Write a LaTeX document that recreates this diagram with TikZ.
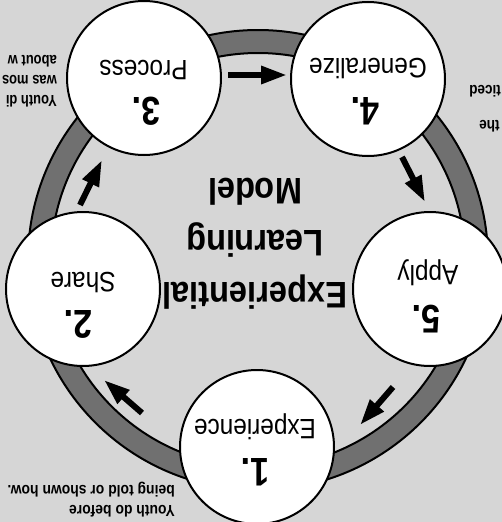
\documentclass[tikz,border=0pt]{standalone}
\usepackage{fontspec}
\setmainfont{Liberation Sans}
\usepackage{graphicx}
\usetikzlibrary{arrows.meta,calc}
\definecolor{bgpaper}{RGB}{214,214,214}
\definecolor{ringfill}{RGB}{112,112,112}
\newcommand\narrowtxt[2]{\scalebox{#1}[1]{#2}}
\begin{document}
\begin{tikzpicture}[x=1pt,y=-1pt,
  stage/.style={circle, draw, line width=2pt, fill=white, minimum size=154pt, inner sep=0pt, outer sep=0pt},
  lbl/.style={rotate=180, anchor=base, inner sep=0pt, font=\fontsize{28}{30}\selectfont},
  num/.style={rotate=180, anchor=base, inner sep=0pt, font=\fontsize{40}{44}\selectfont\bfseries},
  ttl/.style={rotate=180, anchor=base, inner sep=0pt, font=\fontsize{37}{40}\selectfont\bfseries},
  note/.style={rotate=180, inner sep=0pt, font=\fontsize{16}{20}\selectfont\bfseries},
  flow/.style={line width=6pt, -{Triangle[length=26pt,width=17pt]}}]
\useasboundingbox (0,0) rectangle (502,522);
\clip (0,0) rectangle (502,522);
\fill[bgpaper] (0,0) rectangle (502,522);
% ring
\fill[ringfill, even odd rule] (258,260) circle[radius=230pt] (258,260) circle[radius=207pt];
\draw[line width=2pt] (258,260) circle[radius=230pt];
\draw[line width=2pt] (258,260) circle[radius=207pt];
% stages
\node[stage] (c1) at (257,447) {};
\node[stage] (c2) at (83,289) {};
\node[stage] (c3) at (144,78) {};
\node[stage] (c4) at (368,79) {};
\node[stage] (c5) at (430,289) {};
% stage texts
\node[lbl] (t1) at (255,419) {\narrowtxt{0.87}{Experience}};
\node[num] (n1) at (255,458) {\narrowtxt{0.85}{1.}};
\node[lbl] (t2) at (83,272) {\narrowtxt{0.87}{Share}};
\node[num] (n2) at (78,310) {\narrowtxt{0.85}{2.}};
\node[lbl] (t3) at (143.5,60) {\narrowtxt{0.87}{Process}};
\node[num] (n3) at (146,97) {\narrowtxt{0.85}{3.}};
\node[lbl] (t4) at (368,58) {\narrowtxt{0.87}{Generalize}};
\node[num] (n4) at (365,97) {\narrowtxt{0.85}{4.}};
\node[lbl] (t5) at (428,265) {\narrowtxt{0.87}{Apply}};
\node[num] (n5) at (426,305) {\narrowtxt{0.85}{5.}};
% title
\node[ttl] (ti1) at (255,282) {\narrowtxt{0.88}{Experiential}};
\node[ttl] (ti2) at (255,230) {\narrowtxt{0.88}{Learning}};
\node[ttl] (ti3) at (255,178) {\narrowtxt{0.88}{Model}};
% side notes
\node[note, anchor=base west] (a1) at (175,505) {\narrowtxt{0.87}{Youth do before}};
\node[note, anchor=base west] (a2) at (175,485) {\narrowtxt{0.87}{being told or shown how.}};
\node[note, anchor=base west] (b1) at (57,95) {\narrowtxt{0.81}{Youth di}};
\node[note, anchor=base west] (b2) at (57,75) {\narrowtxt{0.81}{was mos}};
\node[note, anchor=base west] (b3) at (57,55) {\narrowtxt{0.81}{about w}};
\node[note, anchor=base east] (d1) at (469,85) {\narrowtxt{0.85}{ticed}};
\node[note, anchor=base east] (d2) at (479,120) {\narrowtxt{0.85}{the}};
% arrows
\draw[flow] ($(c3)+(84,-3)$) -- ($(c4)+(-81,-4)$);
\draw[flow] ($(c4)+(34,78)$) -- ($(c5)+(-5,-87)$);
\draw[flow] ($(c5)+(-37,98)$) -- ($(c1)+(103,-22)$);
\draw[flow] ($(c1)+(-115,-34)$) -- ($(c2)+(21,91)$);
\draw[flow] ($(c2)+(-3,-84)$) -- ($(c3)+(-42,82)$);
\end{tikzpicture}
\end{document}
